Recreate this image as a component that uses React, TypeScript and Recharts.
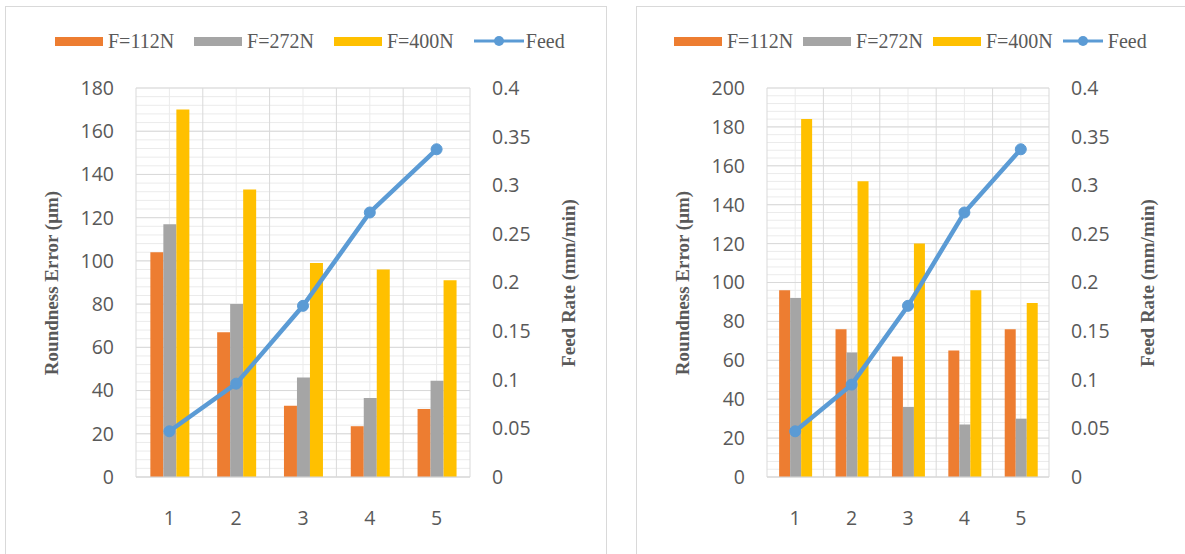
import React from 'react';
import { ComposedChart, Bar, Line, XAxis, YAxis, CartesianGrid } from 'recharts';

const categories = ['1', '2', '3', '4', '5'];

const leftF112 = [104, 67, 33, 23.5, 31.5];
const leftF272 = [117, 80, 46, 36.5, 44.5];
const leftF400 = [170, 133, 99, 96, 91];
const leftFeed = [0.047, 0.096, 0.176, 0.272, 0.337];

const rightF112 = [96, 76, 62, 65, 76];
const rightF272 = [92, 64, 36, 27, 30];
const rightF400 = [184, 152, 120, 96, 89.5];
const rightFeed = [0.047, 0.095, 0.176, 0.272, 0.337];

const leftTicks = [0, 20, 40, 60, 80, 100, 120, 140, 160, 180];
const rightTicks = [0, 20, 40, 60, 80, 100, 120, 140, 160, 180, 200];
const feedTicks = [0, 0.05, 0.1, 0.15, 0.2, 0.25, 0.3, 0.35, 0.4];

const seriesNames = ['F=112N', 'F=272N', 'F=400N', 'Feed'];
const leftAxisTitle = 'Roundness Error (μm)';
const rightAxisTitle = 'Feed Rate (mm/min)';

const COLORS = { f112: '#ED7D31', f272: '#A5A5A5', f400: '#FFC000', feed: '#5B9BD5' };
const TEXT = '#595959';
const TICK_FONT = { fill: TEXT, fontSize: 19.5, fontFamily: 'Open Sans' };
const SERIF = '"Liberation Serif", "DejaVu Serif", serif';

function buildData(f112: number[], f272: number[], f400: number[], feed: number[]) {
  return categories.map((c, i) => ({ cat: c, f112: f112[i], f272: f272[i], f400: f400[i], feed: feed[i] }));
}

// minor horizontal grid every 4 units (Excel default: major / 5)
function minorHorizontal(yMax: number) {
  return (p: any) => {
    const o = p.offset;
    const out: number[] = [];
    for (let v = 0; v <= yMax + 1e-9; v += 4) out.push(o.top + o.height * (1 - v / yMax));
    return out;
  };
}
// minor vertical lines at category centres
function centreVertical(p: any) {
  const o = p.offset;
  const n = categories.length;
  return categories.map((_, i) => o.left + ((i + 0.5) * o.width) / n);
}
// major vertical lines at category boundaries
function boundaryVertical(p: any) {
  const o = p.offset;
  const n = categories.length;
  const out: number[] = [];
  for (let i = 0; i <= n; i++) out.push(o.left + (i * o.width) / n);
  return out;
}

function AxisTitle(props: { cx: number; cy: number; text: string }) {
  const { cx, cy, text } = props;
  return (
    <div
      style={{
        position: 'absolute',
        left: cx,
        top: cy,
        transform: 'translate(-50%, -50%) rotate(-90deg)',
        whiteSpace: 'nowrap',
        fontFamily: SERIF,
        fontSize: 19,
        fontWeight: 'bold',
        lineHeight: '24px',
        color: TEXT,
      }}
    >
      {text}
    </div>
  );
}

function LegendRow(props: { left: number; gap: number; feedW: number; feedGap: number }) {
  const { left, gap, feedW, feedGap } = props;
  const textStyle: React.CSSProperties = {
    fontFamily: SERIF,
    fontSize: 20,
    color: TEXT,
    lineHeight: '24px',
    whiteSpace: 'nowrap',
  };
  const sw = [COLORS.f112, COLORS.f272, COLORS.f400];
  return (
    <div style={{ position: 'absolute', left, top: 22, height: 24, display: 'flex', alignItems: 'center' }}>
      {sw.map((c, i) => (
        <div key={i} style={{ display: 'flex', alignItems: 'center', marginRight: gap }}>
          <div style={{ width: 48, height: 9, background: c, marginRight: 5 }} />
          <span style={textStyle}>{seriesNames[i]}</span>
        </div>
      ))}
      <div style={{ display: 'flex', alignItems: 'center' }}>
        <svg width={feedW} height={14} style={{ marginRight: feedGap }}>
          <line x1={0} y1={7} x2={feedW} y2={7} stroke={COLORS.feed} strokeWidth={3} />
          <circle cx={feedW / 2} cy={7} r={5} fill={COLORS.feed} />
        </svg>
        <span style={textStyle}>{seriesNames[3]}</span>
      </div>
    </div>
  );
}

function Panel(props: {
  x: number;
  width: number;
  data: any[];
  yMax: number;
  yTicks: number[];
  legendLeft: number;
  legendGap: number;
  feedW: number;
  feedGap: number;
}) {
  const { x, width, data, yMax, yTicks, legendLeft, legendGap, feedW, feedGap } = props;
  const leftAxisW = 130;
  const rightAxisW = 136;
  const plotRight = width - rightAxisW;
  const plotMidY = 81 + (470 - 81) / 2;
  return (
    <div
      style={{
        position: 'absolute',
        left: x,
        top: 6,
        width: width,
        height: 600,
        border: '1px solid #d9d9d9',
        background: '#fff',
      }}
    >
      <LegendRow left={legendLeft} gap={legendGap} feedW={feedW} feedGap={feedGap} />
      <ComposedChart
        width={width}
        height={547}
        data={data}
        margin={{ top: 81, right: 0, bottom: 0, left: 0 }}
        barCategoryGap="21.5%"
        barGap={0}
      >
        <CartesianGrid
          xAxisId="cat"
          yAxisId="left"
          stroke="#ebebeb"
          horizontalCoordinatesGenerator={minorHorizontal(yMax)}
          verticalCoordinatesGenerator={centreVertical}
        />
        <CartesianGrid
          xAxisId="cat"
          yAxisId="left"
          stroke="#d9d9d9"
          verticalCoordinatesGenerator={boundaryVertical}
        />
        <XAxis
          xAxisId="cat"
          dataKey="cat"
          height={77}
          tickSize={0}
          tickMargin={34}
          tickLine={false}
          axisLine={{ stroke: '#d9d9d9' }}
          tick={TICK_FONT}
        />
        <YAxis
          yAxisId="left"
          width={leftAxisW}
          domain={[0, yMax]}
          ticks={yTicks}
          allowDataOverflow
          axisLine={false}
          tickLine={false}
          tickSize={0}
          tickMargin={22}
          tick={TICK_FONT}
        />
        <YAxis
          yAxisId="right"
          orientation="right"
          width={rightAxisW}
          domain={[0, 0.4]}
          ticks={feedTicks}
          allowDataOverflow
          axisLine={false}
          tickLine={false}
          tickSize={0}
          tickMargin={22}
          tick={TICK_FONT}
          tickFormatter={(v: number) => String(v)}
        />
        <Bar xAxisId="cat" yAxisId="left" dataKey="f112" name={seriesNames[0]} fill={COLORS.f112} isAnimationActive={false} />
        <Bar xAxisId="cat" yAxisId="left" dataKey="f272" name={seriesNames[1]} fill={COLORS.f272} isAnimationActive={false} />
        <Bar xAxisId="cat" yAxisId="left" dataKey="f400" name={seriesNames[2]} fill={COLORS.f400} isAnimationActive={false} />
        <Line
          xAxisId="cat"
          yAxisId="right"
          type="linear"
          dataKey="feed"
          name={seriesNames[3]}
          stroke={COLORS.feed}
          strokeWidth={4.5}
          dot={{ r: 5.5, fill: COLORS.feed, stroke: COLORS.feed, strokeWidth: 1 }}
          isAnimationActive={false}
        />
      </ComposedChart>
      <AxisTitle cx={46} cy={plotMidY} text={leftAxisTitle} />
      <AxisTitle cx={plotRight + 99} cy={plotMidY} text={rightAxisTitle} />
    </div>
  );
}

export default function App() {
  const leftData = buildData(leftF112, leftF272, leftF400, leftFeed);
  const rightData = buildData(rightF112, rightF272, rightF400, rightFeed);
  return (
    <div
      style={{
        position: 'absolute',
        left: 0,
        top: 0,
        width: 1185,
        height: 554,
        overflow: 'hidden',
        background: '#fff',
      }}
    >
      <Panel
        x={5}
        width={600}
        data={leftData}
        yMax={180}
        yTicks={leftTicks}
        legendLeft={49}
        legendGap={20}
        feedW={50}
        feedGap={2}
      />
      <Panel
        x={636}
        width={548}
        data={rightData}
        yMax={200}
        yTicks={rightTicks}
        legendLeft={37}
        legendGap={10}
        feedW={40}
        feedGap={5}
      />
    </div>
  );
}
